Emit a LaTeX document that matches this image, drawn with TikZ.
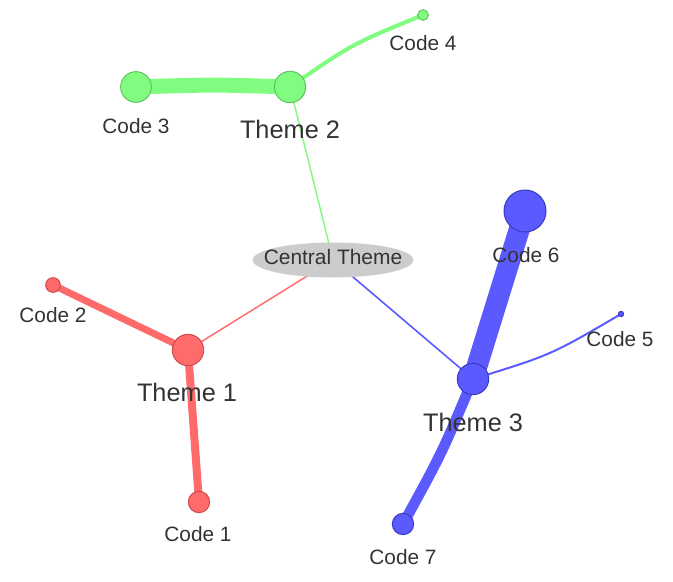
\documentclass[tikz,border=0pt]{standalone}
\usepackage{fontspec}
\setmainfont{Liberation Sans}
\usetikzlibrary{shapes.geometric,backgrounds}
\definecolor{redfill}{HTML}{FF6B6B}
\definecolor{redline}{HTML}{CC4A4A}
\definecolor{greenfill}{HTML}{80FC80}
\definecolor{greenline}{HTML}{5CC45C}
\definecolor{bluefill}{HTML}{5A5AFF}
\definecolor{blueline}{HTML}{3A3AC0}
\definecolor{centralfill}{HTML}{CCCCCC}
\definecolor{labeltext}{HTML}{333333}

\begin{document}
\begin{tikzpicture}[x=0.75pt,y=-0.75pt,
    dot/.style={circle,inner sep=0pt,line width=0.75pt},
    reddot/.style={dot,fill=redfill,draw=redline},
    greendot/.style={dot,fill=greenfill,draw=greenline},
    bluedot/.style={dot,fill=bluefill,draw=blueline},
    codelabel/.style={inner sep=0pt,text=labeltext,font=\fontsize{15.6}{18}\selectfont},
    themelabel/.style={inner sep=0pt,text=labeltext,font=\fontsize{19}{22}\selectfont}]
    %%%%% START %%%%%
    \useasboundingbox (0,0) rectangle (673,581);

    % central theme
    \node[ellipse,fill=centralfill,inner sep=0pt,minimum width=120.75pt,minimum height=26.25pt] (central) at (333,260) {};
    \node[codelabel,font=\fontsize{15.7}{18}\selectfont] (l-central) at (333,257) {Central Theme};

    % themes
    \node[reddot,minimum size=23.5pt] (t1) at (188,350) {};
    \node[greendot,minimum size=23.5pt] (t2) at (290,87) {};
    \node[bluedot,minimum size=23.5pt] (t3) at (473,379) {};

    % codes
    \node[reddot,minimum size=16pt] (c1) at (199,502) {};
    \node[reddot,minimum size=11pt] (c2) at (53,285) {};
    \node[greendot,minimum size=23pt] (c3) at (136,87) {};
    \node[greendot,minimum size=8pt] (c4) at (423,15) {};
    \node[bluedot,minimum size=4pt] (c5) at (621,314) {};
    \node[bluedot,minimum size=31.5pt] (c6) at (525,211) {};
    \node[bluedot,minimum size=16pt] (c7) at (403,524) {};

    \begin{pgfonlayer}{background}
        \draw[redfill,line width=1.1pt] (central.center) -- (t1.center);
        \draw[greenfill,line width=1.1pt] (central.center) -- (t2.center);
        \draw[bluefill,line width=1.2pt] (central.center) -- (t3.center);

        \draw[redfill,line width=5.25pt] (t1.center) -- (c2.center);
        \draw[redfill,line width=6pt] (t1.center) -- (c1.center);

        \draw[greenfill,line width=11.25pt] (c3.center) .. controls (213,84.5) .. (t2.center);
        \draw[greenfill,line width=3pt] (t2.center) .. controls (352,44) .. (c4.center);

        \draw[bluefill,line width=15.75pt] (t3.center) -- (c6.center);
        \draw[bluefill,line width=7.9pt] (t3.center) .. controls (442,453) .. (c7.center);
        \draw[bluefill,line width=1.5pt] (t3.center) .. controls (551,355) .. (c5.center);
    \end{pgfonlayer}

    % labels
    \node[themelabel] (l-t1) at (187,392) {Theme 1};
    \node[themelabel] (l-t2) at (290,129) {Theme 2};
    \node[themelabel] (l-t3) at (473,422) {Theme 3};

    \node[codelabel] (l-c1) at (198,534) {Code 1};
    \node[codelabel] (l-c2) at (53,315) {Code 2};
    \node[codelabel] (l-c3) at (136,126) {Code 3};
    \node[codelabel] (l-c4) at (423,43) {Code 4};
    \node[codelabel] (l-c5) at (620,339) {Code 5};
    \node[codelabel] (l-c6) at (526,255) {Code 6};
    \node[codelabel] (l-c7) at (403,557) {Code 7};
    %%%%% END %%%%%
\end{tikzpicture}
\end{document}
